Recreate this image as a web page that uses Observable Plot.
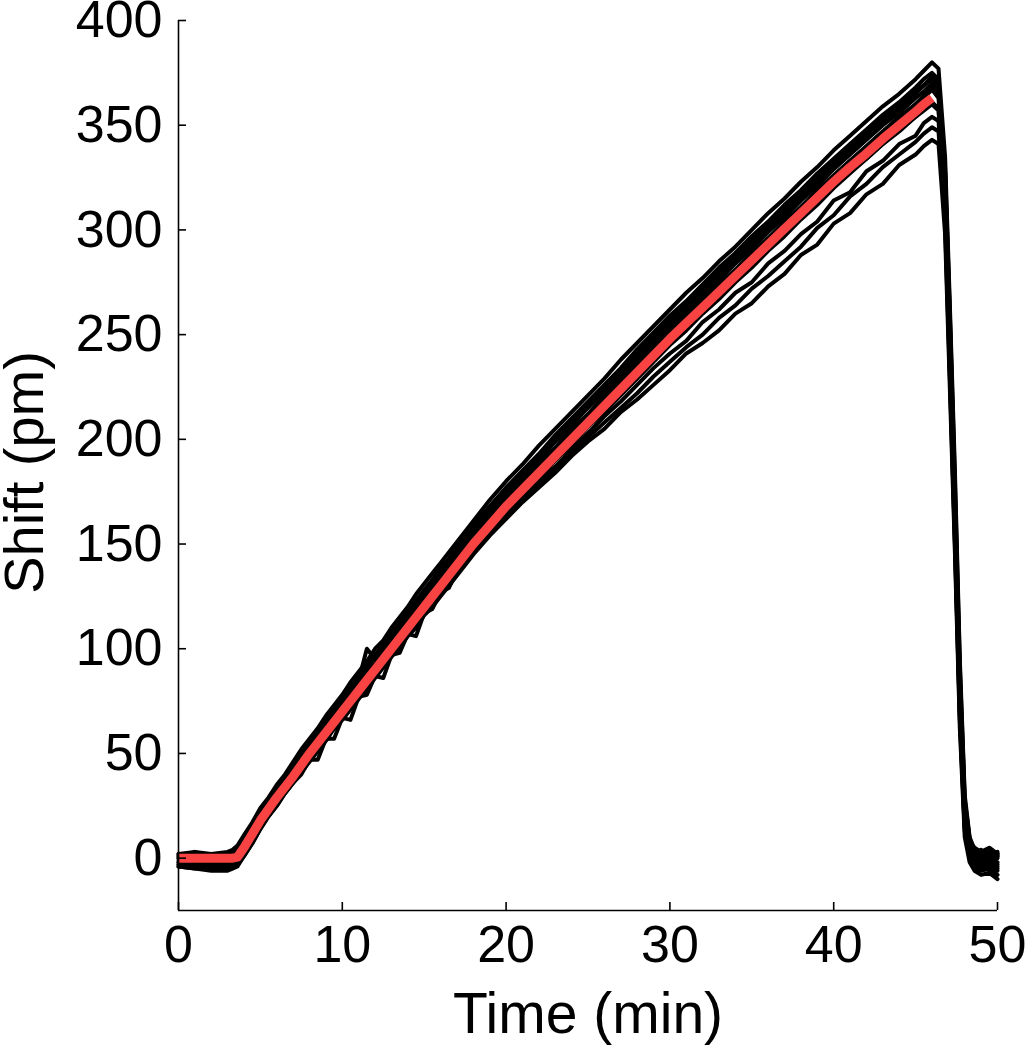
<!DOCTYPE html>
<html><head><meta charset="utf-8">
<script src="https://cdn.jsdelivr.net/npm/d3@7"></script>
<script src="https://cdn.jsdelivr.net/npm/@observablehq/plot@0.6"></script>
<style>body{margin:0;background:#fff} svg{overflow:visible}</style>
</head><body><div id="chart"></div>
<script>
const time = [0,1,2,3,3.3,3.6,
  4,4.5,5,5.5,6,6.5,7,7.5,8,8.5,9,9.5,10,10.5,11,11.5,12,12.5,13,13.5,14,14.5,15,15.5,16,16.5,17,
  18,19,20,21,22,23,24,25,26,27,28,29,30,31,32,33,34,35,36,37,38,39,40,41,42,43,44,45,
  45.5,46,46.4,46.8,47.1,47.4,47.7,48,48.3,48.6,49,49.5,50];

const meanShift = [0,0,0,0,0,0.5,
  5,11.5,18,23.5,29,34,39,44.5,50,55,60,65,70,75,80,85,90,95,100,105,110,115,120,125,130,135,140,
  150,159,168,176,184,192,200,208,216,224,232,240,248,255.5,263,270.5,278,285.5,293,300.5,308,315.5,323,330,336.5,343.5,350,356.5,
  360,363];

const trace1 = [2,3,2,3,4,6,
  11,17,24,29,35,40,46,52,57,62,68,73,78,84,89,94,100,104,110,115,120,126,131,136,141,146,151,
  161,171,180,188,197,205,213,221,229,238,246,254,262,270,277,285,292,300,308,315,323,330,338,345,352,359,365,372,
  376,380,377,335,262,185,95,30,10,4,2,3,1];
const trace2 = [1,0,1,1,2,4,
  9,15,22,28,33,39,44,50,55,61,66,71,76,82,86,92,97,102,107,112,118,123,128,133,139,143,149,
  159,168,177,185,193,202,210,218,226,234,243,251,259,266,274,282,289,297,304,312,319,327,334,341,348,355,361,368,
  372,375,372,328,255,175,88,26,9,3,0,2,0];
const trace3 = [0,3,0,1,1,3,
  8,14,21,27,33,37,43,48,54,59,64,69,74,79,85,100,95,100,106,110,116,121,126,131,136,142,147,
  157,166,175,183,191,199,207,216,224,232,240,248,256,264,271,279,287,294,302,309,317,324,332,339,346,353,359,366,
  369,373,370,322,248,170,82,22,7,2,1,-1,2];
const trace4 = [-1,-1,0,-1,0,2,
  7,13,20,26,31,37,41,47,52,57,63,67,72,78,82,88,92,98,103,108,113,119,124,129,134,139,144,
  154,163,172,180,189,196,205,212,221,229,237,245,253,261,268,276,284,291,299,306,314,321,329,336,343,350,356,363,
  366,370,366,318,240,165,78,20,6,1,-1,0,-2];
const trace5 = [-2,-2,-1,-2,-2,0,
  5,12,19,24,30,35,40,45,51,56,61,66,71,76,81,86,91,96,101,107,111,117,121,127,131,137,141,
  152,161,170,178,186,194,202,210,218,226,234,242,250,258,265,273,281,288,296,303,311,318,326,333,340,347,353,360,
  363,367,363,314,236,160,74,18,5,0,-2,1,-3];
const trace6 = [-3,-4,-3,-4,-4,-3,
  1,7,14,20,25,31,36,40,47,47,57,57,67,66,77,78,87,86,97,98,107,106,117,119,127,129,137,
  147,156,165,174,181,190,197,206,213,221,229,237,245,252,260,267,275,282,290,297,305,312,320,327,334,341,347,354,
  357,360,357,310,232,156,70,15,3,-2,-4,-3,-5];
const trace7 = [-4,-5,-5,-5,-4,-3,
  2,8,15,21,26,31,36,42,47,52,57,62,67,72,77,82,87,92,97,102,107,112,117,122,127,132,137,
  147,155,164,172,180,187,195,203,211,218,226,234,241,247,256,262,270,275,284,290,298,304,314,318,328,333,341,345,
  351,354,352,306,230,152,68,14,2,-3,-5,-4,-6];
const trace8 = [-3,-4,-4,-3,-3,-2,
  3,9,16,22,27,32,37,43,48,53,58,63,68,73,78,83,88,93,98,103,107,113,117,122,127,132,137,
  146,155,163,171,178,186,193,201,208,215,222,230,237,244,250,258,264,272,278,285,292,301,307,316,322,330,336,342,
  346,349,347,303,227,150,66,13,1,-4,-6,-5,-8];
const trace9 = [-4,-5,-6,-6,-5,-4,
  1,7,14,20,25,31,36,41,46,51,56,62,66,71,76,81,86,91,96,101,106,110,116,120,125,130,135,
  145,154,162,170,177,184,192,199,205,213,219,226,233,241,246,252,260,265,273,279,288,293,303,308,317,322,331,336,
  340,343,341,298,222,146,62,10,-2,-6,-8,-7,-10];
const trace10 = [1,1,2,1,2,4,
  10,16,23,28,34,39,45,50,56,60,66,71,76,81,87,92,97,101,107,112,117,122,127,132,137,142,147,
  157,166,175,183,192,200,208,216,224,232,241,249,257,264,272,280,287,295,302,310,317,325,332,339,346,353,360,366,
  369,372,369,326,252,172,84,24,8,5,3,5,2];
const trace11 = [0,-1,1,0,1,2,
  6,13,20,25,31,36,42,47,53,57,63,68,74,78,83,89,93,98,104,108,113,118,123,128,133,138,143,
  153,162,171,179,188,195,203,212,219,228,235,243,251,259,266,274,281,289,296,304,311,319,326,333,340,347,354,360,
  364,368,365,320,244,168,80,21,7,3,0,-2,1];
const trace12 = [2,1,2,2,3,5,
  9,16,22,28,33,38,44,49,55,60,65,70,75,81,85,91,96,100,106,111,116,121,126,131,136,141,146,
  156,165,174,182,190,199,207,215,223,231,239,247,255,262,270,278,286,293,301,308,316,323,331,338,345,352,358,365,
  369,373,371,330,258,180,92,28,9,2,4,1,3];
const trace13 = [-2,-3,-2,-3,-3,-1,
  4,10,17,22,28,33,38,43,49,58,59,64,68,80,79,84,89,100,98,103,108,113,118,123,128,133,138,
  148,157,166,174,182,190,198,206,214,222,230,238,246,253,261,268,276,283,291,298,306,313,321,328,334,341,348,354,
  358,361,358,312,234,158,72,16,4,-1,-3,-2,-4];

const xTicks = [0,10,20,30,40,50];
const yTicks = [0,50,100,150,200,250,300,350,400];
const xLabel = "Time (min)";
const yLabel = "Shift (pm)";

const traces = [trace1,trace2,trace3,trace4,trace5,trace6,trace7,trace8,trace9,trace10,trace11,trace12,trace13];
const blackRows = traces.flatMap((tr, i) => tr.map((v, j) => ({t: time[j], shift: v, id: i})));
const meanRows = meanShift.map((v, j) => ({t: time[j], shift: v}));

const font = "Liberation Sans, Arial, Helvetica, sans-serif";

const chart = Plot.plot({
  width: 1025,
  height: 1050,
  marginLeft: 178,
  marginRight: 28,
  marginTop: 20,
  marginBottom: 140,
  style: {fontFamily: font, background: "#fff", color: "#000", overflow: "visible"},
  x: {domain: [0, 50]},
  y: {domain: [-25, 400]},
  marks: [
    Plot.line(blackRows, {x: "t", y: "shift", z: "id", stroke: "#000", strokeWidth: 4, strokeLinejoin: "round", curve: "linear"}),
    Plot.line(meanRows, {x: "t", y: "shift", stroke: "#f94343", strokeWidth: 9, strokeLinecap: "butt", strokeLinejoin: "round"}),
    Plot.ruleX([0], {stroke: "#000", strokeWidth: 1.6}),
    Plot.ruleY([-25], {stroke: "#000", strokeWidth: 1.6}),
    Plot.tickY(yTicks, {y: d => d, insetRight: 811, stroke: "#000", strokeWidth: 1.6}),
    Plot.tickX(xTicks, {x: d => d, insetTop: 882, stroke: "#000", strokeWidth: 1.6}),
    Plot.axisY(yTicks, {tickSize: 0, tickPadding: 16, fontSize: 52, label: null, fill: "#000"}),
    Plot.axisX(xTicks, {tickSize: 0, tickPadding: 15, fontSize: 52, label: null, fill: "#000"}),
    Plot.text([xLabel], {frameAnchor: "bottom", dy: 104, fontSize: 57, fill: "#000", lineAnchor: "middle", textAnchor: "middle"}),
    Plot.text([yLabel], {frameAnchor: "left", dx: -153, dy: 7, rotate: -90, fontSize: 56, fill: "#000", lineAnchor: "middle", textAnchor: "middle"})
  ]
});
document.getElementById("chart").appendChild(chart);
</script>
</body></html>
